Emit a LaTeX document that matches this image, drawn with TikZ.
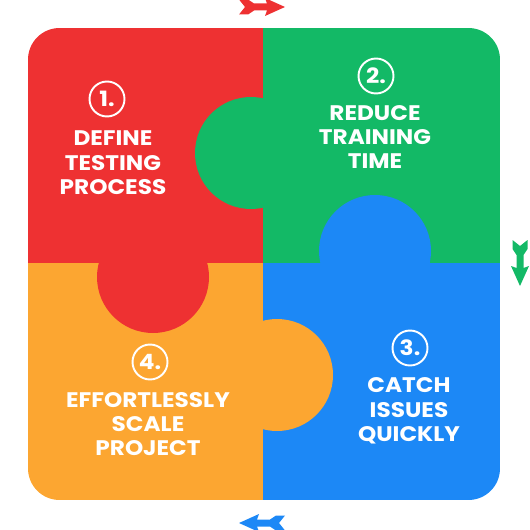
\documentclass[tikz,border=0pt]{standalone}
\usepackage{fontspec}
\setmainfont{Poppins}
\newfontfamily\widefont{Poppins}[FakeStretch=1.1]

\definecolor{pzred}{RGB}{238,49,50}
\definecolor{pzgreen}{RGB}{19,185,102}
\definecolor{pzblue}{RGB}{28,136,246}
\definecolor{pzorange}{RGB}{252,166,49}

\tikzset{
  steptext/.style={text=white, align=center,
    font=\widefont\bfseries\fontsize{12}{13.9}\selectfont},
  numring/.style={circle, draw=white, line width=1.1pt, text=white,
    minimum size=0.7cm, inner sep=0pt,
    font=\widefont\bfseries\fontsize{12}{13.9}\selectfont},
  fletch/.pic={
    \fill (0,-7.5) -- (9,-7.5) -- (15,-3.5) -- (28,-3.5) -- (26,-9) -- (46,0)
      -- (26,9) -- (28,3.5) -- (15,3.5) -- (9,7.5) -- (0,7.5) -- (6,0) -- cycle;
  }
}

\begin{document}
\begin{tikzpicture}[x=0.02cm, y=-0.02cm]

  \useasboundingbox (0,0) rectangle (530,530);

  % --- the four pieces ---
  \begin{scope}
    \clip[rounded corners=18pt] (28,28) rectangle (500,500);
    \fill[pzred]    (28,28)   rectangle (263,263);
    \fill[pzgreen]  (263,28)  rectangle (500,263);
    \fill[pzblue]   (263,263) rectangle (500,500);
    \fill[pzorange] (28,263)  rectangle (263,500);
  \end{scope}

  % --- tabs ---
  \fill[pzred]    (153,277) circle (56);
  \fill[pzgreen]  (251,153) circle (56);
  \fill[pzblue]   (375,251) circle (56);
  \fill[pzorange] (277,375) circle (56);

  % --- 1 ---
  \node[numring] (num1) at (107,99) {1.};
  \node[steptext] (txt1) at (113,163) {DEFINE\\TESTING\\PROCESS};

  % --- 2 ---
  \node[numring] (num2) at (376,76) {2.};
  \node[steptext] (txt2) at (375,137) {REDUCE\\TRAINING\\TIME};

  % --- 3 ---
  \node[numring] (num3) at (410,348) {3.};
  \node[steptext] (txt3) at (409,411) {CATCH\\ISSUES\\QUICKLY};

  % --- 4 ---
  \node[numring] (num4) at (150,362) {4.};
  \node[steptext] (txt4) at (148,424) {EFFORTLESSLY\\SCALE\\PROJECT};

  % --- small arrows ---
  \pic[pzred] (arrtop) at (239,7) {fletch};
  \pic[pzgreen, rotate=-90] (arrright) at (520,240) {fletch};
  \pic[pzblue, rotate=180] (arrbottom) at (285,523) {fletch};

\end{tikzpicture}
\end{document}
